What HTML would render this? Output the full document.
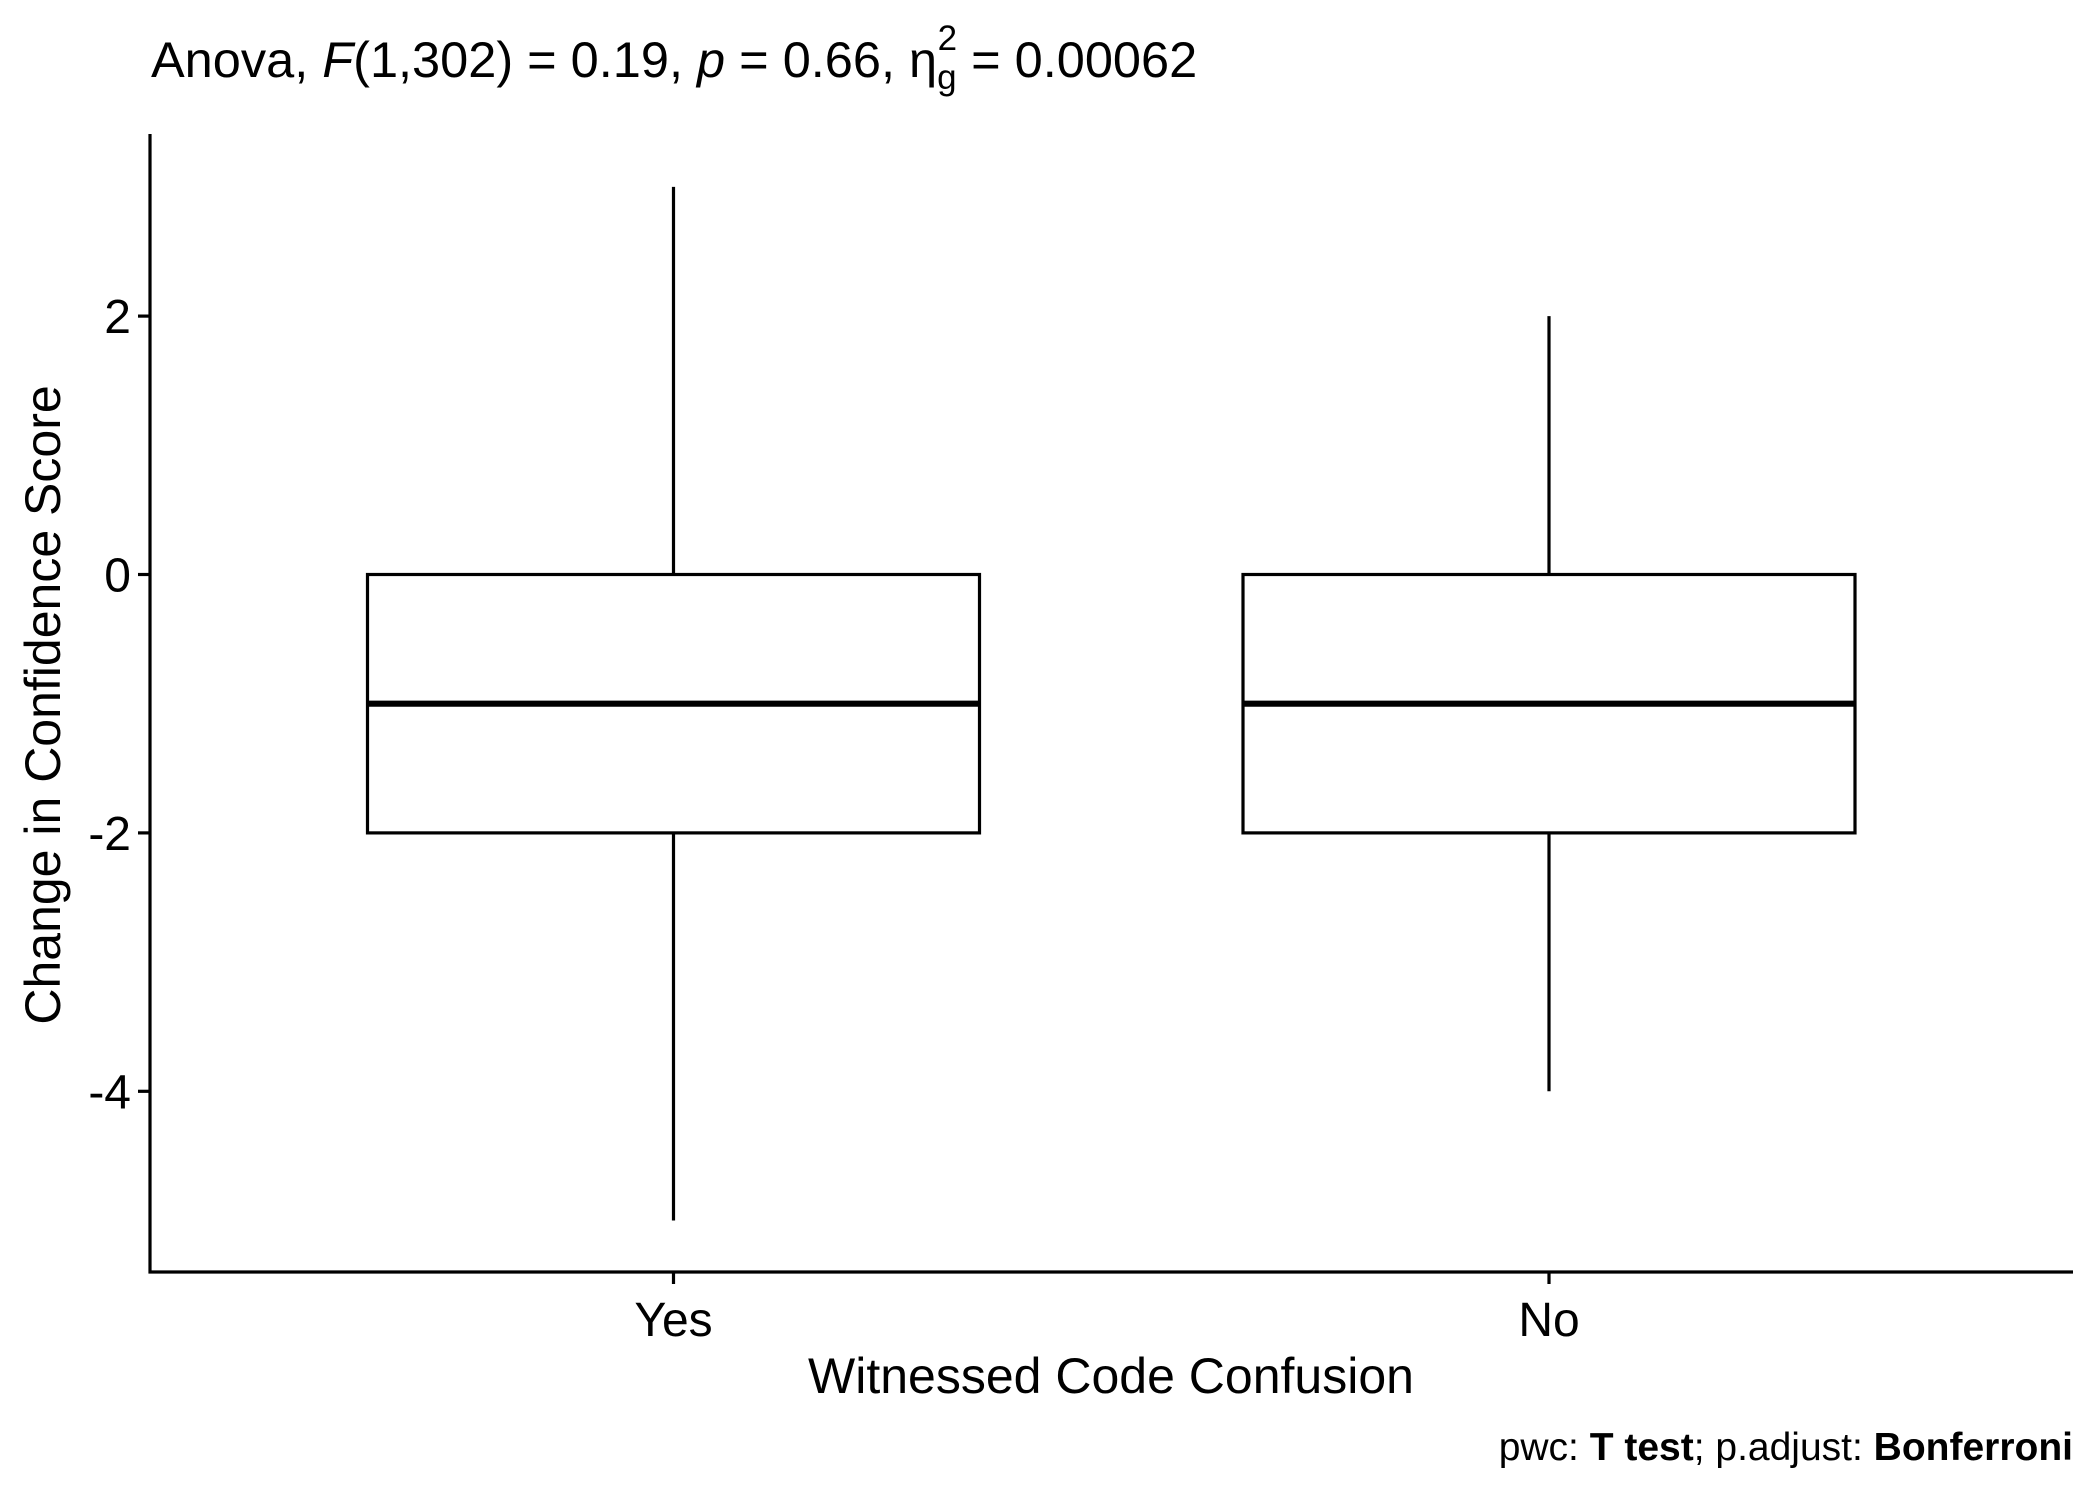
<!DOCTYPE html>
<html><head><meta charset="utf-8"><style>
html,body{margin:0;padding:0;background:#fff}
svg{display:block;font-family:"Liberation Sans",Arial,sans-serif}
</style></head><body>
<svg id="chart" width="2100" height="1499" viewBox="0 0 2100 1499">
<text x="151" y="77" font-size="50.5">Anova, <tspan font-style="italic">F</tspan>(1,302) = 0.19, <tspan font-style="italic">p</tspan> = 0.66, η<tspan font-size="35" dy="12">g</tspan><tspan font-size="35" dx="-19" dy="-39">2</tspan><tspan dy="27"> = 0.00062</tspan></text>
<g id="plot"></g>
<text x="1111" y="1393" font-size="50" text-anchor="middle">Witnessed Code Confusion</text>
<text transform="translate(60,705) rotate(-90)" font-size="50" text-anchor="middle">Change in Confidence Score</text>
<text x="2073" y="1460" font-size="39" text-anchor="end">pwc: <tspan font-weight="bold">T test</tspan>; p.adjust: <tspan font-weight="bold">Bonferroni</tspan></text>
</svg>
<script>
const categories=["Yes","No"];
const whiskerLow=[-5,-4];
const q1=[-2,-2];
const medians=[-1,-1];
const q3=[0,0];
const whiskerHigh=[3,2];
const yTicks=[2,0,-2,-4];
const tickLabels=["2","0","-2","-4"];

const NS="http://www.w3.org/2000/svg";
const g=document.getElementById('plot');
const pLeft=150,pRight=2073,pTop=134,pBottom=1272;
const y=v=>574.5-v*129.2;
const xc=i=>673.5+i*875.5;
const halfW=306;
const sw=3.2;
function el(t,a){const e=document.createElementNS(NS,t);for(const k in a)e.setAttribute(k,a[k]);g.appendChild(e);return e;}
categories.forEach((c,i)=>{
  const x=xc(i);
  const w1=el('line',{x1:x,x2:x,y1:y(whiskerHigh[i]),y2:y(q3[i]),stroke:'#000','stroke-width':sw});
  
  
  const w2=el('line',{x1:x,x2:x,y1:y(q1[i]),y2:y(whiskerLow[i]),stroke:'#000','stroke-width':sw});
  
  
  const b=el('rect',{x:x-halfW,y:y(q3[i]),width:2*halfW,height:y(q1[i])-y(q3[i]),fill:'#fff',stroke:'#000','stroke-width':sw});
  
  
  const m=el('line',{x1:x-halfW,x2:x+halfW,y1:y(medians[i]),y2:y(medians[i]),stroke:'#000','stroke-width':6.2});
  
  
  const t=el('line',{x1:x,x2:x,y1:pBottom,y2:pBottom+12,stroke:'#000','stroke-width':sw});
  
  
  const l=el('text',{x:x,y:1336,'font-size':48,'text-anchor':'middle'});
  l.textContent=c;
  
  
});
yTicks.forEach((v,i)=>{
  const t=el('line',{x1:pLeft-12,x2:pLeft,y1:y(v),y2:y(v),stroke:'#000','stroke-width':sw});
  
  
  const l=el('text',{x:131,y:y(v)+17,'font-size':48,'text-anchor':'end'});
  l.textContent=tickLabels[i];
  
  
});
const ya=el('line',{x1:pLeft,x2:pLeft,y1:pTop,y2:pBottom+1.5,stroke:'#000','stroke-width':sw});


const xa=el('line',{x1:pLeft-1.5,x2:pRight,y1:pBottom,y2:pBottom,stroke:'#000','stroke-width':sw});


</script>
</body></html>
